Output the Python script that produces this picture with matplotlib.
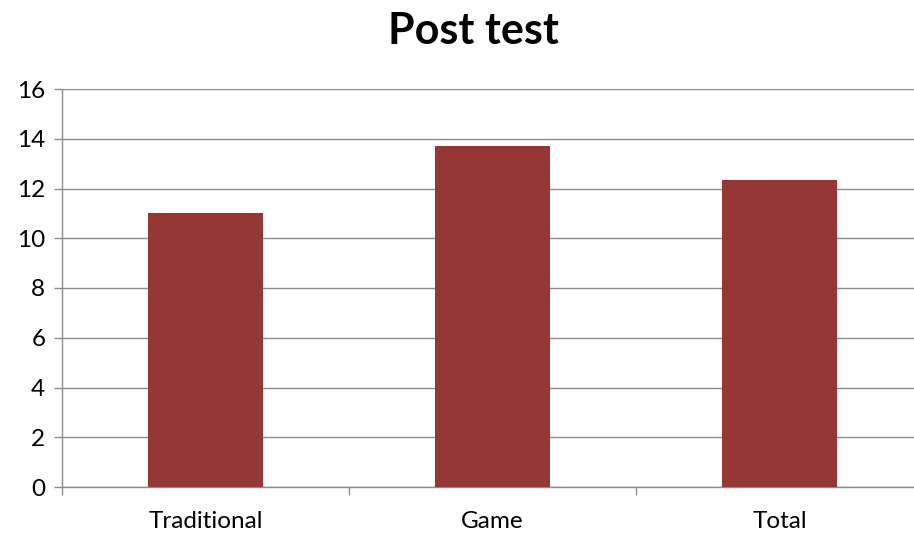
import matplotlib
matplotlib.use("Agg")
import matplotlib.pyplot as plt
import numpy as np

categories = ["Traditional", "Game", "Total"]
values = [11.0, 13.7, 12.35]
yticks = [0, 2, 4, 6, 8, 10, 12, 14, 16]

plt.rcParams['font.family'] = ['Lato', 'DejaVu Sans']

fig = plt.figure(figsize=(9.14, 5.34), dpi=100)
left = 62 / 914
right = 923 / 914
bottom = 47 / 534
top = 445 / 534
ax = fig.add_axes([left, bottom, right - left, top - bottom])

x = np.arange(len(categories))
ax.bar(x, values, width=0.4, color="#953735", zorder=3)

ax.set_xlim(-0.5, len(categories) - 0.5)
ax.set_ylim(0, 16)
ax.set_yticks(yticks)
ax.set_yticklabels([str(t) for t in yticks], fontsize=17.5)
ax.set_xticks(x)
ax.set_xticklabels(categories, fontsize=17.5)
ax.set_xticks(np.arange(-0.5, len(categories) + 0.5, 1), minor=True)

ax.tick_params(axis='x', which='major', length=0, pad=17)
ax.tick_params(axis='x', which='minor', length=6, color="#8c8c8c", width=1)
ax.tick_params(axis='y', which='major', length=6, color="#8c8c8c", width=1, pad=6)

ax.yaxis.grid(True, color="#8c8c8c", linewidth=1, zorder=0)
ax.set_axisbelow(True)
for s in ["top", "right"]:
    ax.spines[s].set_visible(False)
for s in ["left", "bottom"]:
    ax.spines[s].set_color("#8c8c8c")
    ax.spines[s].set_linewidth(1)

fig.text(473 / 914, 0.942, "Post test", ha="center", va="center", fontsize=31, fontweight="bold")

fig.savefig("out.png", dpi=100, facecolor="white")
